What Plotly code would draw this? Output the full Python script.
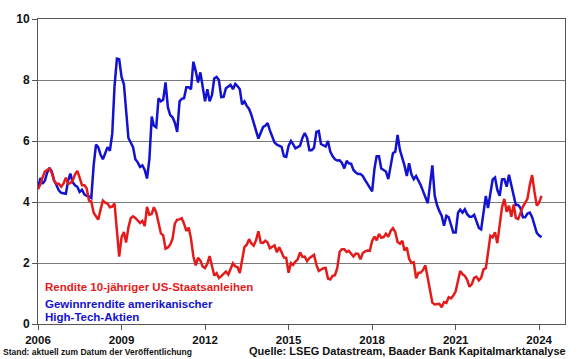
import pandas as pd
import plotly.graph_objects as go

start_month = "2006-01-01"
n_months = 218

# Rendite 10-jähriger US-Staatsanleihen (monthly, %)
treasury_10y = [
    4.42, 4.57, 4.80, 5.00, 5.05, 5.10, 4.95, 4.70, 4.60, 4.60, 4.50, 4.60,
    4.80, 4.60, 4.62, 4.70, 4.90, 5.02, 4.80, 4.55, 4.55, 4.45, 4.05, 4.02,
    3.65, 3.55, 3.42, 3.75, 4.05, 3.98, 3.95, 3.83, 3.85, 3.95, 2.95, 2.21,
    2.84, 3.02, 2.67, 3.16, 3.47, 3.53, 3.48, 3.40, 3.31, 3.38, 3.21, 3.84,
    3.58, 3.61, 3.83, 3.66, 3.29, 2.97, 2.91, 2.47, 2.51, 2.60, 2.80, 3.29,
    3.42, 3.43, 3.47, 3.29, 3.05, 3.16, 2.80, 2.22, 1.92, 2.17, 2.08, 1.89,
    1.83, 1.98, 2.23, 1.95, 1.59, 1.67, 1.51, 1.57, 1.65, 1.72, 1.62, 1.78,
    1.99, 1.89, 1.87, 1.67, 2.16, 2.52, 2.60, 2.78, 2.64, 2.57, 2.75, 3.04,
    2.67, 2.66, 2.73, 2.67, 2.48, 2.53, 2.58, 2.35, 2.52, 2.35, 2.18, 2.17,
    1.68, 2.00, 1.94, 2.05, 2.12, 2.35, 2.20, 2.21, 2.06, 2.16, 2.21, 2.27,
    1.94, 1.74, 1.78, 1.83, 1.84, 1.49, 1.46, 1.58, 1.60, 1.84, 2.37, 2.45,
    2.45, 2.36, 2.40, 2.29, 2.21, 2.31, 2.30, 2.12, 2.33, 2.38, 2.41, 2.40,
    2.72, 2.87, 2.74, 2.95, 2.83, 2.85, 2.96, 2.86, 3.05, 3.14, 3.01, 2.69,
    2.63, 2.73, 2.41, 2.51, 2.14, 2.00, 2.02, 1.50, 1.68, 1.69, 1.78, 1.92,
    1.51, 1.15, 0.70, 0.64, 0.65, 0.66, 0.55, 0.72, 0.69, 0.88, 0.84, 0.93,
    1.07, 1.44, 1.74, 1.63, 1.58, 1.45, 1.22, 1.31, 1.52, 1.55, 1.43, 1.51,
    1.79, 1.83, 2.32, 2.89, 2.84, 3.01, 2.65, 3.19, 3.83, 4.10, 3.68, 3.88,
    3.52, 3.92, 3.48, 3.44, 3.64, 3.84, 3.97, 4.11, 4.57, 4.88, 4.33, 3.88,
    3.99, 4.20,
]

# Gewinnrendite amerikanischer High-Tech-Aktien (monthly, %)
tech_earnings_yield = [
    4.45, 4.79, 4.60, 4.70, 4.96, 5.12, 5.00, 4.70, 4.55, 4.38, 4.30, 4.28,
    4.27, 4.70, 4.93, 4.65, 4.55, 4.50, 4.33, 4.40, 4.25, 4.20, 4.18, 4.13,
    5.20, 5.88, 5.80, 5.55, 5.40, 5.60, 5.80, 5.68, 6.24, 7.80, 8.70, 8.68,
    8.10, 7.86, 7.00, 6.10, 5.95, 5.80, 5.40, 5.30, 5.15, 5.20, 5.05, 4.77,
    5.40, 6.80, 6.50, 6.45, 7.40, 7.30, 7.35, 7.92, 7.10, 6.85, 6.78, 6.60,
    6.30, 7.30, 7.38, 7.40, 7.76, 7.76, 7.70, 8.60, 8.30, 7.92, 8.25, 7.70,
    7.30, 7.70, 7.30, 7.50, 8.05, 8.10, 8.00, 7.44, 7.45, 7.73, 7.78, 7.84,
    7.70, 7.87, 7.80, 7.70, 7.20, 7.30, 7.15, 7.05, 6.85, 6.55, 6.33, 6.08,
    6.30, 6.46, 6.50, 6.59, 6.35, 6.13, 5.95, 5.88, 5.84, 5.81, 5.50, 5.48,
    5.84, 6.00, 5.90, 5.76, 5.80, 5.85, 6.10, 6.26, 6.10, 5.70, 5.70, 5.78,
    6.30, 6.33, 5.90, 5.86, 5.82, 6.00, 5.65, 5.50, 5.40, 5.36, 5.37, 5.28,
    5.10, 5.35, 5.27, 5.25, 5.05, 4.97, 4.92, 4.92, 4.85, 4.72, 4.60, 4.45,
    4.35, 5.10, 5.50, 5.50, 5.10, 5.05, 5.00, 4.75, 5.15, 5.60, 5.65, 6.20,
    5.70, 5.45, 5.20, 4.85, 5.27, 4.90, 4.75, 4.85, 4.70, 4.55, 4.35, 4.15,
    3.96, 4.60, 5.20, 4.20, 3.90, 3.70, 3.55, 3.22, 3.55, 3.50, 3.27, 3.00,
    3.00, 3.65, 3.75, 3.65, 3.76, 3.60, 3.52, 3.52, 3.58, 3.40, 3.15, 3.10,
    3.75, 4.20, 3.80, 4.37, 4.74, 4.80, 4.40, 4.20, 4.74, 4.75, 4.50, 4.89,
    4.55, 4.30, 3.90, 3.90, 3.80, 3.50, 3.50, 3.62, 3.65, 3.50, 3.20, 2.99,
    2.90, 2.85,
]

tick_dates = ["2006-01-01", "2009-01-01", "2012-01-01", "2015-01-01",
              "2018-01-01", "2021-01-01", "2024-01-01"]
tick_labels = ["2006", "2009", "2012", "2015", "2018", "2021", "2024"]
y_ticks = [0, 2, 4, 6, 8, 10]

dates = pd.date_range(start_month, periods=n_months, freq="MS")

RED = "#E41B1B"
BLUE = "#1212D0"
FONT = "Liberation Sans, Arial, sans-serif"

fig = go.Figure()
fig.add_trace(go.Scatter(x=dates, y=tech_earnings_yield, mode="lines",
                         line=dict(color=BLUE, width=2.5),
                         name="Gewinnrendite amerikanischer High-Tech-Aktien"))
fig.add_trace(go.Scatter(x=dates, y=treasury_10y, mode="lines",
                         line=dict(color=RED, width=2.5),
                         name="Rendite 10-jähriger US-Staatsanleihen"))

fig.update_layout(
    width=580, height=359,
    margin=dict(l=38, r=15, t=16, b=35),
    paper_bgcolor="white", plot_bgcolor="white",
    showlegend=False,
    font=dict(family=FONT, color="#111111"),
)
fig.update_xaxes(
    type="date",
    range=["2006-01-01", "2024-12-05"],
    tickvals=tick_dates, ticktext=tick_labels,
    ticks="outside", ticklen=5, tickcolor="#555555",
    tickfont=dict(size=11.5, family=FONT, weight="bold", color="#111111"),
    showgrid=False, showline=True, linecolor="#555555", linewidth=1,
    mirror=True, zeroline=False,
)
fig.update_yaxes(
    range=[0, 10], tickvals=y_ticks,
    ticks="outside", ticklen=5, tickcolor="#555555",
    tickfont=dict(size=12, family=FONT, weight="bold", color="#111111"),
    showgrid=True, gridcolor="#7a7a7a", gridwidth=1,
    showline=True, linecolor="#555555", linewidth=1, mirror=True,
    zeroline=False,
)

def note(text, x, y, size, color, xanchor="left"):
    fig.add_annotation(text=text, x=x, y=y, xref="paper", yref="paper",
                       xanchor=xanchor, yanchor="middle", showarrow=False,
                       font=dict(size=size, family=FONT, color=color, weight="bold"))

note("Rendite 10-jähriger US-Staatsanleihen", 0.0095, 0.12, 11.5, RED)
note("Gewinnrendite amerikanischer", 0.0095, 0.065, 11.5, BLUE)
note("High-Tech-Aktien", 0.0095, 0.023, 11.5, BLUE)
note("Stand: aktuell zum Datum der Veröffentlichung", -0.07, -0.093, 8.5, "#111111")
note("Quelle: LSEG Datastream, Baader Bank Kapitalmarktanalyse", 1.005, -0.09, 11, "#111111",
     xanchor="right")

fig.write_html("out.html",
               config={"displayModeBar": False},
               post_script="document.body.style.margin='0';document.body.style.overflow='hidden';")
